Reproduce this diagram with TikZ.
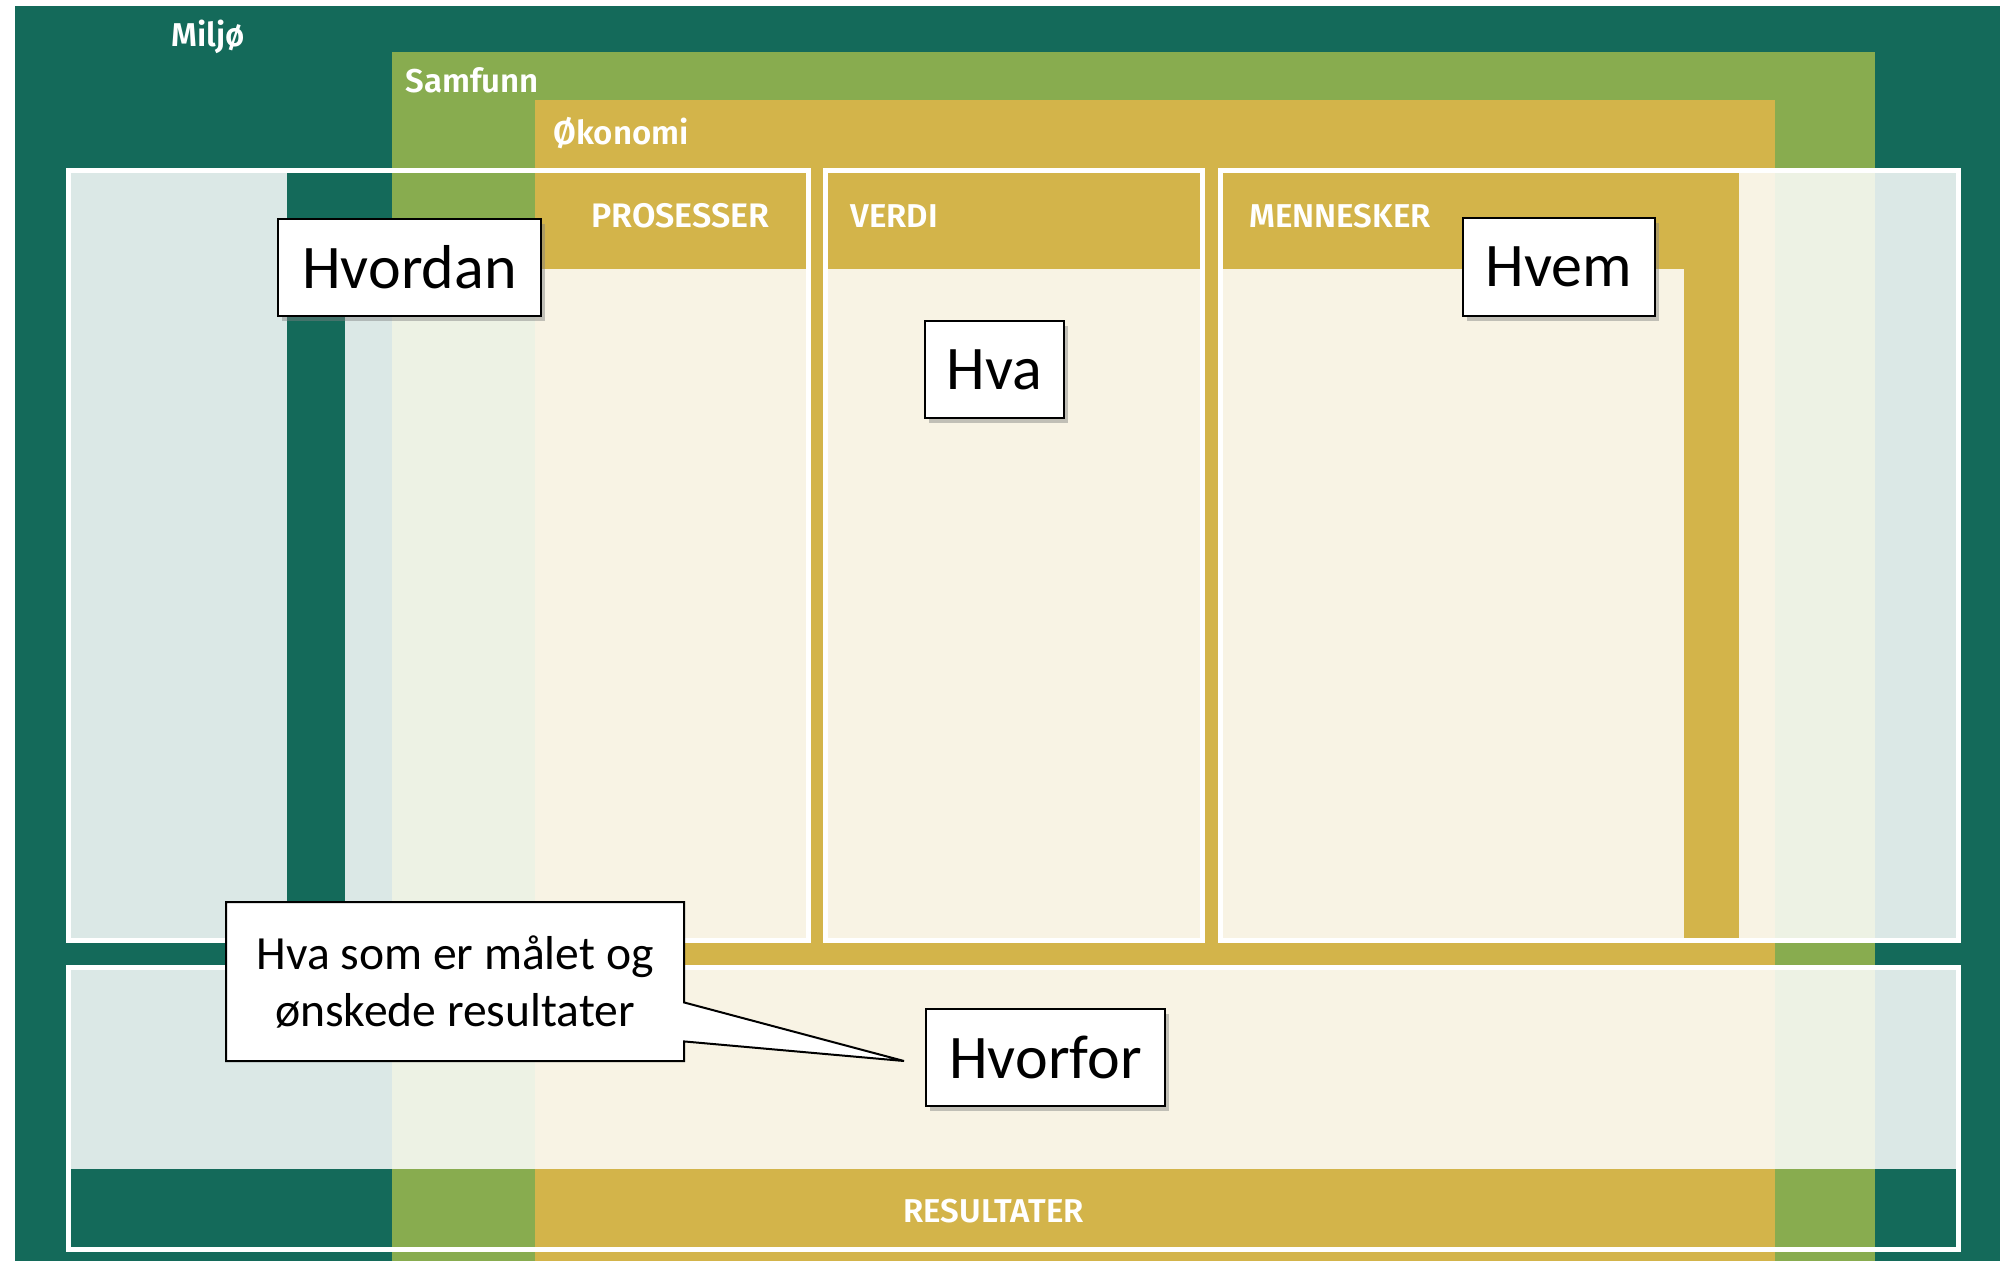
\documentclass[tikz,border=0pt]{standalone}
\usepackage{fontspec}
\setmainfont{Carlito}
\newfontfamily\hdrfont{Fira Sans}[BoldFont={Fira Sans SemiBold}]
\usetikzlibrary{shapes.callouts,shadows,calc}
\definecolor{miljo}{RGB}{20,106,90}
\definecolor{samfunn}{RGB}{136,172,79}
\definecolor{okonomi}{RGB}{211,180,74}
\begin{document}
\begin{tikzpicture}[x=0.5pt,y=-0.5pt,
  veil/.style={fill=white,fill opacity=0.85},
  panelrim/.style={draw=white,line width=2.5pt},
  layerlabel/.style={anchor=base west,text=white,inner sep=0pt,
    font=\hdrfont\bfseries\fontsize{16.5}{19}\selectfont},
  question/.style={draw=black,line width=1pt,fill=white,inner sep=0pt,
    font=\fontsize{31}{37}\selectfont,
    drop shadow={shadow xshift=2pt,shadow yshift=-2.5pt,opacity=0.45}},
]
\useasboundingbox (0,0) rectangle (2000,1261);
\fill[white] (0,0) rectangle (2000,1261);

% nested layers: environment, society, economy
\fill[miljo]   (15,6)    rectangle (2000,1261);
\fill[samfunn] (392,52)  rectangle (1875,1261);
\fill[okonomi] (535,100) rectangle (1775,1261);

% translucent writing areas (headers and side strips stay solid)
\fill[veil] (71,173)    rectangle (287,938);
\fill[veil] (345,269)   rectangle (806,938);
\fill[veil] (827.5,269) rectangle (1199.5,938);
\fill[veil] (1222.5,269) rectangle (1684,938);
\fill[veil] (1739,173)  rectangle (1956,938);
\fill[veil] (71,970)    rectangle (1956,1169);

% white frames of the four panels
\draw[panelrim] (68.5,170.5) rectangle (808.5,940.5);
\draw[panelrim] (825,170.5)  rectangle (1202,940.5);
\draw[panelrim] (1220,170.5) rectangle (1958.5,940.5);
\draw[panelrim] (68.5,967.5) rectangle (1958.5,1249.5);

% layer and panel titles
\node[layerlabel] (lmiljo)   at (171,47)  {Miljø};
\node[layerlabel] (lsamfunn) at (405,93)  {Samfunn};
\node[layerlabel] (lokonomi) at (553,145) {Økonomi};
\node[layerlabel,font=\hdrfont\bfseries\fontsize{17}{20}\selectfont] (lprosess) at (591,228) {PROSESSER};
\node[layerlabel] (lverdi)   at (850,228)  {VERDI};
\node[layerlabel] (lmennesk) at (1249,228) {MENNESKER};
\node[layerlabel] (lresult)  at (903,1222) {RESULTATER};

% question labels
\node[question,minimum width=131.5pt,minimum height=48.5pt] (hvordan) at (409.5,267.5) {Hvordan};
\node[question,minimum width=69.5pt,minimum height=48.5pt]  (hva)     at (994.5,369.5) {Hva};
\node[question,minimum width=96pt,minimum height=49pt]      (hvem)    at (1559,267)    {Hvem};
\node[question,minimum width=119.5pt,minimum height=48.5pt] (hvorfor) at (1045.5,1057.5) {Hvorfor};

% speech bubble pointing at "Hvorfor"
\coordinate (tip) at ($(hvorfor.west)+(-21,3.5)$);
\node[rectangle callout,callout absolute pointer=(tip),callout pointer width=19.5pt,
  draw=black,line width=1pt,fill=white,inner sep=0pt,
  minimum width=229pt,minimum height=79.5pt,align=center,
  font=\fontsize{23.8}{28.5}\selectfont] (goal) at (455,981.5)
  {Hva som er målet og\\ønskede resultater};
\end{tikzpicture}
\end{document}
